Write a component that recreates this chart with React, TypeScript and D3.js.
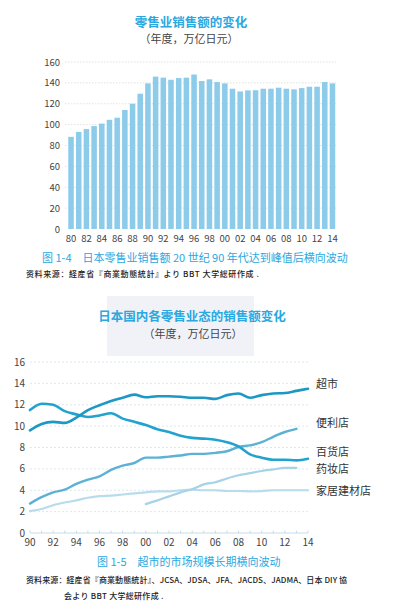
import React from "react";
import * as d3 from "d3";

const barYears = d3.range(1980, 2015);
const barValues = [88.3, 93, 95.7, 98.6, 101, 104.6, 106.6, 114, 120, 129.6, 139.5, 146, 145, 143, 144.6, 145, 148, 141.8, 143.4, 140.8, 139.5, 134.4, 131.8, 132.8, 133, 134.4, 134.4, 135.4, 134.4, 133.8, 135, 136.3, 136.3, 140.8, 139.5];
const barTicks = [0, 20, 40, 60, 80, 100, 120, 140, 160];

const lineYears = d3.range(1990, 2015);
const supermarket = [9.6, 10.2, 10.4, 10.3, 10.8, 11.5, 11.95, 12.35, 12.65, 12.95, 12.7, 12.8, 12.8, 12.75, 12.65, 12.65, 12.55, 12.9, 13.05, 12.65, 12.9, 13.05, 13.1, 13.3, 13.5];
const department = [11.5, 12.1, 12.0, 11.4, 11.1, 10.85, 11.0, 11.2, 10.7, 10.4, 10.1, 9.7, 9.45, 9.1, 8.9, 8.83, 8.73, 8.5, 8.1, 7.35, 7.05, 6.85, 6.85, 6.8, 6.95];
const convenience = [2.75, 3.35, 3.8, 4.05, 4.6, 5.0, 5.3, 5.9, 6.3, 6.55, 7.05, 7.05, 7.15, 7.25, 7.4, 7.4, 7.5, 7.65, 8.05, 8.2, 8.5, 9.0, 9.45, 9.75, null];
const drugstore = [null, null, null, null, null, null, null, null, null, null, 2.7, 3.05, 3.43, 3.8, 4.1, 4.55, 4.75, 5.1, 5.4, 5.6, 5.8, 5.95, 6.1, 6.1, null];
const homecenter = [2.05, 2.25, 2.6, 2.85, 3.05, 3.3, 3.45, 3.5, 3.6, 3.7, 3.8, 3.9, 3.9, 4.0, 4.05, 4.0, 4.0, 3.93, 3.93, 3.9, 3.92, 4.0, 4.0, 4.0, 4.0];
const lineTicks = [0, 2, 4, 6, 8, 10, 12, 14, 16];
const lineXTicks = [1990, 1992, 1994, 1996, 1998, 2000, 2002, 2004, 2006, 2008, 2010, 2012, 2014];

const seriesList = [
  { name: "家居建材店", values: homecenter, color: "#b7dcec", width: 2.2, labelY: 495 },
  { name: "药妆店", values: drugstore, color: "#a6d3e7", width: 2.2, labelY: 473 },
  { name: "便利店", values: convenience, color: "#5cb1d4", width: 2.4, labelY: 427 },
  { name: "百货店", values: department, color: "#22a3cf", width: 2.6, labelY: 456 },
  { name: "超市", values: supermarket, color: "#1d97c4", width: 2.6, labelY: 388 },
];

const FONT = "'Noto Sans CJK SC', 'Noto Sans', sans-serif";

export default function App() {
  const W = 397, H = 609;
  const bx = d3.scaleBand<number>().domain(barYears).range([67.5, 336]).paddingInner(0.28).paddingOuter(0.1);
  const by = d3.scaleLinear().domain([0, 160]).range([229, 62]);
  const lx = d3.scaleLinear().domain([1990, 2014]).range([30, 308]);
  const ly = d3.scaleLinear().domain([0, 16]).range([533, 362]);
  const lineGen = d3.line<number | null>()
    .defined((d) => d !== null)
    .x((_, i) => lx(lineYears[i]))
    .y((d) => ly(d as number))
    .curve(d3.curveMonotoneX);

  return (
    <svg width={W} height={H} style={{ position: "absolute", left: 0, top: 0, background: "#fff" }} fontFamily={FONT}>
      <rect x={0} y={0} width={W} height={H} fill="#fff" />
      <rect x={107} y={296} width={147} height={60} fill="#f1f2f8" />

      <text x={191} y={27} textAnchor="middle" fontSize={12.5} fontWeight="bold" fill="#2aa8df">零售业销售额的变化</text>
      <text x={189} y={43} textAnchor="middle" fontSize={11} fill="#444">（年度，万亿日元）</text>

      {barTicks.map((t) => (
        <g key={t}>
          {t > 0 && <line x1={65} x2={336} y1={by(t)} y2={by(t)} stroke="#cfcfcf" strokeWidth={0.6} strokeDasharray="1.5,1.5" />}
          <text x={60} y={by(t) + 3.5} textAnchor="end" fontSize={9.5} fill="#444">{t}</text>
        </g>
      ))}
      {barYears.map((yr, i) => (
        <rect key={yr} x={bx(yr)} y={by(barValues[i])} width={bx.bandwidth()} height={by(0) - by(barValues[i])} fill="#8dcbea" />
      ))}
      {barYears.filter((y) => y % 2 === 0).map((yr) => (
        <text key={yr} x={(bx(yr) as number) + bx.bandwidth() / 2} y={241.5} textAnchor="middle" fontSize={9.5} fill="#444">
          {String(yr).slice(2)}
        </text>
      ))}

      <text x={42} y={262} fontSize={11} fill="#2aa8df">图 1-4　日本零售业销售额 20 世纪 90 年代达到峰值后横向波动</text>
      <text x={26} y={277} fontSize={8} letterSpacing={0.6} fill="#222" fontWeight="500">资料来源：経産省『商業動態統計』より BBT 大学総研作成 .</text>

      <text x={192} y={321} textAnchor="middle" fontSize={12.5} fontWeight="bold" fill="#2aa8df">日本国内各零售业态的销售额变化</text>
      <text x={193} y={338} textAnchor="middle" fontSize={11} fill="#444">（年度，万亿日元）</text>

      {lineTicks.map((t) => (
        <g key={t}>
          {t > 0 && <line x1={30} x2={308} y1={ly(t)} y2={ly(t)} stroke="#cfdde6" strokeWidth={0.7} strokeDasharray="2,2" />}
          <text x={25} y={ly(t) + 3.5} textAnchor="end" fontSize={10} fill="#444">{t}</text>
        </g>
      ))}
      <line x1={30} x2={308} y1={ly(0)} y2={ly(0)} stroke="#b9d6e4" strokeWidth={0.8} />
      {lineYears.map((yr) => (
        <line key={yr} x1={lx(yr)} x2={lx(yr)} y1={ly(0) - 2.5} y2={ly(0)} stroke="#b9d6e4" strokeWidth={0.8} />
      ))}
      {lineXTicks.map((yr) => (
        <text key={yr} x={lx(yr)} y={546} textAnchor="middle" fontSize={10} fill="#444">{String(yr).slice(2)}</text>
      ))}

      {seriesList.map((s) => (
        <path key={s.name} d={lineGen(s.values) || ""} fill="none" stroke={s.color} strokeWidth={s.width} strokeLinecap="round" strokeLinejoin="round" />
      ))}
      {seriesList.map((s) => (
        <text key={s.name + "l"} x={316} y={s.labelY} fontSize={11} fill="#333">{s.name}</text>
      ))}

      <text x={97} y={566} fontSize={11} fill="#2aa8df">图 1-5　超市的市场规模长期横向波动</text>
      <text x={26} y={583} fontSize={8} letterSpacing={0.1} fill="#222" fontWeight="500">资料来源：経産省『商業動態統計』、JCSA、JDSA、JFA、JACDS、JADMA、日本 DIY 協</text>
      <text x={64} y={599} fontSize={8} letterSpacing={0.3} fill="#222" fontWeight="500">会より BBT 大学総研作成 .</text>
    </svg>
  );
}
